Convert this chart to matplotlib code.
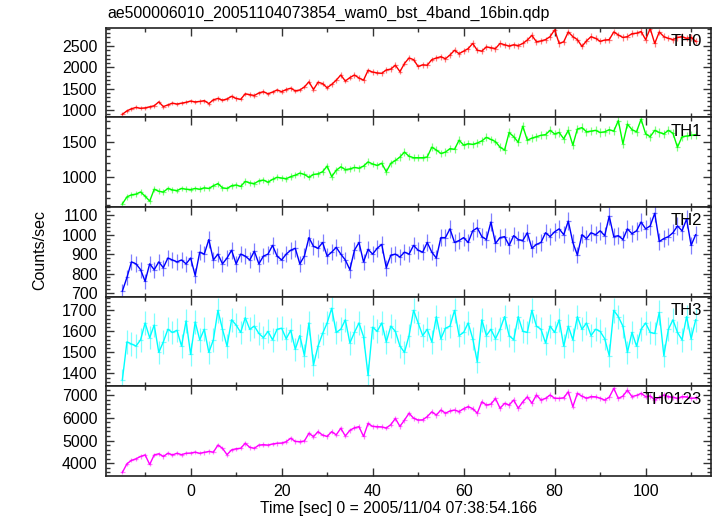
import numpy as np
import matplotlib
matplotlib.use('Agg')
import matplotlib.pyplot as plt
from matplotlib.ticker import MultipleLocator

plt.rcParams['font.family'] = ['Liberation Sans', 'DejaVu Sans']

title = "ae500006010_20051104073854_wam0_bst_4band_16bin.qdp"
xlabel = "Time [sec] 0 = 2005/11/04 07:38:54.166"
ylabel = "Counts/sec"
band_names = ["TH0", "TH1", "TH2", "TH3", "TH0123"]
band_colors = ["#ff0000", "#00ff00", "#0000ff", "#00ffff", "#ff00ff"]

# bin centres (s), 1-s bins
time = np.arange(-15, 112)
bin_exposure = 0.5  # exposure per original bin (s), used for Poisson errors

th0 = [900, 980, 1030, 1060, 1040, 1050, 1075, 1100, 1190, 1080,
       1120, 1160, 1140, 1160, 1180, 1210, 1190, 1200, 1220, 1150,
       1240, 1270, 1230, 1260, 1320, 1270, 1250, 1380, 1360, 1340,
       1400, 1430, 1380, 1420, 1470, 1430, 1480, 1510, 1450, 1470,
       1540, 1660, 1480, 1650, 1620, 1520, 1600, 1700, 1820, 1680,
       1760, 1820, 1750, 1700, 1930, 1890, 1870, 1860, 1940, 1960,
       2050, 1900, 2090, 2220, 2180, 2020, 2060, 2050, 2180, 2220,
       2250, 2200, 2290, 2400, 2320, 2380, 2440, 2560, 2400, 2380,
       2480, 2460, 2440, 2560, 2530, 2500, 2530, 2510, 2560, 2640,
       2750, 2600, 2620, 2650, 2720, 2880, 2560, 2600, 2830, 2720,
       2650, 2490, 2620, 2720, 2680, 2610, 2640, 2650, 2830, 2760,
       2700, 2720, 2790, 2800, 2840, 2650, 2910, 2560, 2830, 2720,
       2680, 2650, 2700, 2720, 2680, 2700, 2610]

th1 = [620, 720, 750, 760, 790, 730, 660, 830, 800, 790,
       840, 820, 810, 840, 830, 825, 840, 830, 850, 840,
       880, 910, 850, 840, 880, 890, 870, 940, 920, 910,
       950, 960, 930, 970, 1000, 990, 980, 1010, 1030, 1060,
       1040, 1000, 1040, 1050, 1080, 1160, 1010, 1100, 1150, 1110,
       1120, 1140, 1130, 1160, 1220, 1190, 1170, 1200, 1080, 1200,
       1240, 1290, 1360, 1300, 1280, 1280, 1280, 1290, 1430, 1390,
       1340, 1360, 1410, 1400, 1530, 1460, 1480, 1470, 1490, 1520,
       1570, 1540, 1510, 1430, 1390, 1640, 1580, 1500, 1730, 1530,
       1560, 1580, 1600, 1610, 1670, 1620, 1640, 1550, 1670, 1460,
       1690, 1710, 1650, 1660, 1670, 1640, 1650, 1680, 1660, 1810,
       1480, 1760, 1680, 1650, 1830, 1620, 1580, 1670, 1640, 1620,
       1670, 1630, 1430, 1580, 1590, 1600, 1610]

th2 = [710, 780, 860, 850, 820, 760, 850, 820, 860, 830,
       880, 870, 860, 870, 850, 880, 790, 910, 900, 975,
       870, 900, 850, 880, 920, 850, 900, 890, 870, 915,
       850, 890, 900, 945, 890, 870, 900, 920, 930, 850,
       890, 985, 940, 930, 960, 890, 910, 935, 900, 870,
       820, 920, 960, 860, 925, 900, 930, 950, 830, 895,
       900, 885, 910, 900, 945, 920, 910, 960, 910, 880,
       985, 985, 1030, 960, 970, 985, 960, 1020, 1035, 990,
       975, 1065, 955, 985, 990, 945, 995, 975, 970, 1010,
       930, 950, 960, 1010, 990, 1015, 1030, 1000, 1070, 960,
       895, 1000, 980, 1010, 1000, 1020, 995, 1095, 990, 995,
       975, 1030, 1005, 1020, 1065, 1030, 1045, 1110, 965, 980,
       990, 1010, 1045, 1020, 1080, 945, 1000]

th3 = [1370, 1550, 1540, 1530, 1560, 1640, 1570, 1630, 1500, 1550,
       1610, 1595, 1605, 1530, 1650, 1490, 1645, 1560, 1610, 1500,
       1560, 1700, 1610, 1530, 1655, 1630, 1595, 1665, 1610, 1625,
       1590, 1570, 1600, 1560, 1610, 1615, 1565, 1605, 1515, 1580,
       1485, 1640, 1440, 1530, 1590, 1640, 1710, 1595, 1610, 1655,
       1545, 1595, 1640, 1575, 1390, 1620, 1600, 1640, 1550, 1625,
       1600, 1530, 1500, 1580, 1700, 1640, 1580, 1610, 1550, 1670,
       1565, 1615, 1625, 1700, 1580, 1595, 1640, 1565, 1455, 1655,
       1580, 1610, 1565, 1610, 1670, 1580, 1560, 1670, 1600, 1595,
       1700, 1625, 1610, 1545, 1625, 1595, 1655, 1530, 1625, 1560,
       1670, 1610, 1640, 1580, 1610, 1600, 1565, 1485, 1700, 1670,
       1625, 1500, 1595, 1530, 1610, 1640, 1595, 1590, 1690, 1485,
       1610, 1655, 1595, 1560, 1670, 1565, 1655]

th0123 = [3600, 3980, 4130, 4200, 4300, 4370, 3950, 4370, 4420, 4300,
          4440, 4370, 4440, 4380, 4440, 4450, 4490, 4440, 4480, 4520,
          4490, 4800, 4660, 4380, 4590, 4640, 4660, 4880, 4700, 4660,
          4800, 4820, 4800, 4850, 4880, 4890, 4950, 5100, 4960, 4950,
          4980, 5320, 5170, 5390, 5240, 5180, 5390, 5250, 5540, 5200,
          5450, 5560, 5610, 5180, 5750, 5620, 5610, 5600, 5550, 5700,
          5970, 5620, 5900, 6200, 5980, 5900, 5910, 6050, 6260, 6120,
          6340, 6200, 6300, 6340, 6270, 6400, 6490, 6400, 6200, 6700,
          6560, 6600, 6850, 6420, 6630, 6560, 6780, 6420, 6700, 6920,
          6640, 7000, 6780, 6850, 7000, 6860, 6850, 6880, 7140, 6490,
          7070, 6950, 6860, 6930, 6920, 6860, 6780, 6900, 7290, 6850,
          6950, 7210, 6930, 6980, 7070, 6930, 6960, 6780, 6900, 7000,
          6930, 6900, 6850, 6930, 6920, 6850, 6880]

series = [th0, th1, th2, th3, th0123]
ylims = [(829, 2934), (580, 1857), (681, 1144), (1340, 1765), (3443, 7395)]
major_steps = [500, 500, 100, 100, 1000]
minor_steps = [100, 100, 20, 20, 200]

W, H = 717, 516
fig = plt.figure(figsize=(W / 100, H / 100), dpi=100)

left, right = 106 / W, 710.7 / W
tops = [27.5, 117.3, 206.7, 296.7, 386.0, 476.0]

axes = []
for i in range(5):
    y0 = 1 - tops[i + 1] / H
    h = (tops[i + 1] - tops[i]) / H
    ax = fig.add_axes([left, y0, right - left, h])
    vals = np.asarray(series[i], dtype=float)
    err = np.sqrt(vals * bin_exposure) / bin_exposure
    col = band_colors[i]
    ax.errorbar(time, vals, xerr=0.5, yerr=err, fmt='none', ecolor=col,
                elinewidth=0.9, alpha=0.5, capsize=0)
    ax.plot(time, vals, color=col, lw=1.0)
    ax.set_xlim(-18.6, 114.3)
    ax.set_ylim(*ylims[i])
    ax.xaxis.set_major_locator(MultipleLocator(20))
    ax.xaxis.set_minor_locator(MultipleLocator(10))
    ax.yaxis.set_major_locator(MultipleLocator(major_steps[i]))
    ax.yaxis.set_minor_locator(MultipleLocator(minor_steps[i]))
    ax.tick_params(which='both', direction='in', top=True, right=True,
                   labelsize=11.5, width=1.0, color='#333333')
    ax.tick_params(which='major', length=6, pad=6)
    ax.tick_params(which='minor', length=3)
    for s in ax.spines.values():
        s.set_linewidth(1.2)
        s.set_color('#222222')
    if i < 4:
        ax.tick_params(labelbottom=False)
    ax.text(0.985, 0.93, band_names[i], transform=ax.transAxes,
            ha='right', va='top', fontsize=12, color='black')
    axes.append(ax)

fig.text(399 / W, 1 - 508 / H, xlabel, ha='center', va='center', fontsize=11.3)
fig.text(107 / W, 1 - 13 / H, title, ha='left', va='center', fontsize=11.4)
fig.text(40 / W, 1 - 250 / H, ylabel, rotation=90, ha='center', va='center',
         fontsize=11.5)

fig.savefig('out.png', dpi=100)
